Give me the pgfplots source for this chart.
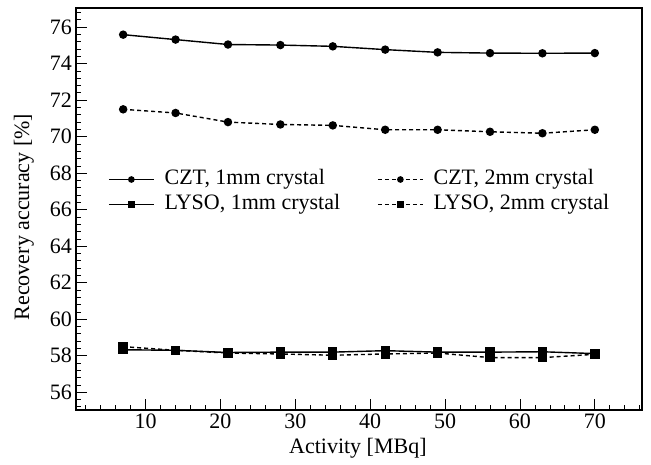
\documentclass[border=0pt]{standalone}
\usepackage{fontspec}
\setmainfont{Liberation Serif}
\usepackage{pgfplots}
\pgfplotsset{compat=1.18}

\begin{document}
\begin{tikzpicture}
\useasboundingbox (-76pt,-54pt) rectangle (575pt,410pt);
\begin{axis}[
    at={(0,0)}, anchor=south west,
    width=566pt, height=402pt, scale only axis,
    xmin=0.7, xmax=76.3, ymin=55.03, ymax=77.05,
    xtick={10,20,...,70}, ytick={56,58,...,76},
    minor xtick={2,4,...,76},
    minor ytick={55.2,55.6,...,76.9},
    tick pos=left, tick align=inside,
    major tick length=11pt, minor tick length=5.5pt,
    every tick/.style={black, line width=0.8pt},
    axis line style={line width=1.3pt},
    /pgf/number format/assume math mode=true,
    ticklabel style={font=\fontsize{22}{22}\selectfont},
    xticklabel style={inner sep=4pt},
    yticklabel style={inner sep=4pt},
    label style={font=\fontsize{22}{22}\selectfont},
    xlabel={Activity [MBq]},
    ylabel={Recovery accuracy [\%]},
    xlabel style={at={(axis description cs:0.498,-0.095)}, anchor=center},
    ylabel style={at={(axis description cs:-0.092,0.48)}, anchor=center},
    legend columns=2,
    legend cell align=left,
    legend style={at={(0.0565,0.600)}, anchor=north west, draw=none, fill=none,
        font=\fontsize{22}{22}\selectfont, inner sep=0pt, row sep=4pt,
        nodes={inner sep=1pt, text height=15pt, text depth=4pt},
        /tikz/every odd column/.append style={column sep=9pt},
        /tikz/every even column/.append style={column sep=36pt}},
    legend image code/.code={
        \draw[#1] (0pt,0pt) -- (45pt,0pt);
        \draw[#1, only marks, mark size=2.6pt] plot coordinates {(22.5pt,0pt)};
    },
]
\addplot[black, line width=1.4pt, mark=*, mark size=3.5pt] coordinates {
(7,75.59) (14,75.32) (21,75.05) (28,75.02) (35,74.95)
(42,74.77) (49,74.62) (56,74.58) (63,74.57) (70,74.58)};
\addlegendentry{CZT, 1mm crystal}
\addplot[black, line width=1.4pt, dash pattern=on 4pt off 3pt, mark=*, mark size=3.5pt, mark options={solid}] coordinates {
(7,71.50) (14,71.30) (21,70.80) (28,70.67) (35,70.62)
(42,70.38) (49,70.38) (56,70.27) (63,70.19) (70,70.38)};
\addlegendentry{CZT, 2mm crystal}
\addplot[black, line width=1.4pt, mark=square*, mark size=4pt] coordinates {
(7,58.33) (14,58.30) (21,58.18) (28,58.20) (35,58.20)
(42,58.28) (49,58.20) (56,58.20) (63,58.22) (70,58.12)};
\addlegendentry{LYSO, 1mm crystal}
\addplot[black, line width=1.4pt, dash pattern=on 4pt off 3pt, mark=square*, mark size=4pt, mark options={solid}] coordinates {
(7,58.50) (14,58.30) (21,58.15) (28,58.10) (35,58.03)
(42,58.10) (49,58.15) (56,57.90) (63,57.90) (70,58.08)};
\addlegendentry{LYSO, 2mm crystal}
\end{axis}
\end{tikzpicture}
\end{document}
